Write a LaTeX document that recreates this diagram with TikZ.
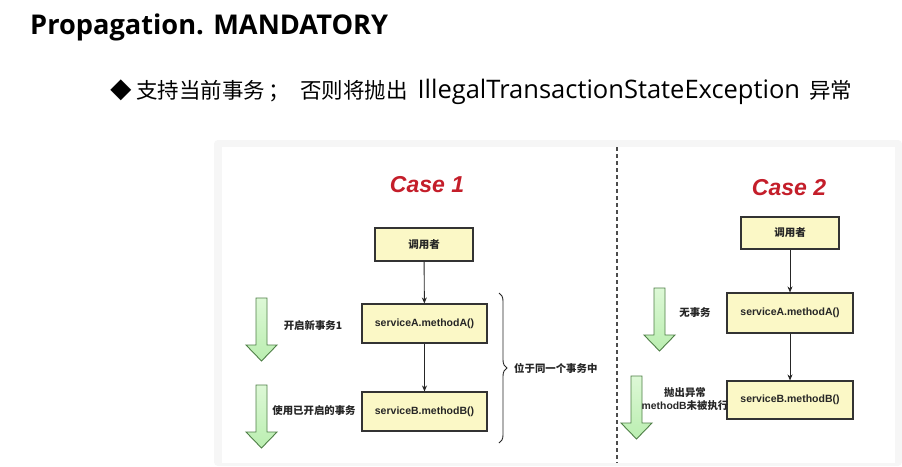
\documentclass[tikz,border=0pt]{standalone}
\usepackage{fontspec}
\setmainfont{Liberation Sans}
\newfontfamily\cjk{Noto Sans CJK SC}
\newfontfamily\headfont{Open Sans}
\usetikzlibrary{arrows.meta,decorations.pathreplacing}

\definecolor{boxfill}{HTML}{FBF8C6}
\definecolor{boxline}{HTML}{333333}
\definecolor{caseRed}{HTML}{C41E2A}
\definecolor{arrowline}{HTML}{4E7F46}
\definecolor{arrowtop}{HTML}{DDF8D6}
\definecolor{arrowbot}{HTML}{BAEEB0}
\definecolor{rim}{HTML}{F6F6F6}

\tikzset{
  box/.style={draw=boxline, fill=boxfill, line width=1.1pt,
    minimum width=125pt, minimum height=39pt, inner sep=0pt,
    font=\fontsize{10.5}{12}\selectfont\bfseries, text=black!85},
  callerbox/.style={box, minimum width=98pt, minimum height=33pt,
    font=\cjk\fontsize{10.5}{12}\selectfont\bfseries},
  flow/.style={-{Stealth[length=6pt,width=5pt]}, line width=0.9pt, draw=black!85},
  note/.style={font=\cjk\fontsize{10.4}{13}\selectfont\bfseries,
    text=black!85, align=center, inner sep=0pt},
  casetitle/.style={font=\fontsize{23}{26}\selectfont\bfseries\itshape,
    text=caseRed, inner sep=0pt},
  pics/greenarrow/.style={code={
    \draw[draw=arrowline, line width=0.9pt, top color=arrowtop,
      bottom color=arrowbot, line join=miter]
      (-5.5,0) -- (5.5,0) -- (5.5,47) -- (15.5,47) -- (0,63)
      -- (-15.5,47) -- (-5.5,47) -- cycle;
  }},
}

\begin{document}
\begin{tikzpicture}[x=1pt, y=-1pt]
  \useasboundingbox (0,0) rectangle (902,466);
  \fill[white] (0,0) rectangle (902,466);

  % heading and summary line
  \node[anchor=base west, inner sep=0pt,
    font=\headfont\fontsize{27.2}{32}\selectfont\bfseries] (title) at (30,34)
    {Propagation. MANDATORY};
  \node[anchor=base west, inner sep=0pt,
    font=\cjk\fontsize{21.5}{24}\selectfont] (summary) at (110,98)
    {◆ 支持当前事务\hspace{3pt}；\hspace{10pt}否则将抛出\hspace{10pt}%
     {\headfont\fontsize{25.5}{28}\selectfont IllegalTransactionStateException}%
     \hspace{9pt}异常};

  % framed panel
  \fill[rim, rounded corners=4pt] (214,140) rectangle (902,466);
  \fill[white] (222,147) rectangle (895,463);
  \coordinate (divtop) at (617,147);
  \coordinate (divbot) at (617,463);
  \draw[black!70, line width=1.1pt, dash pattern=on 4pt off 3pt] (divtop) -- (divbot);

  % Case 1
  \node[casetitle] (case1) at (427,185) {Case 1};
  \node[callerbox] (callerA) at (424,244.5) {调用者};
  \node[box] (svcA1) at (424.5,323.5) {serviceA.methodA()};
  \node[box] (svcB1) at (424.5,411.5) {serviceB.methodB()};
  \draw[flow] (callerA) -- (svcA1);
  \draw[flow] (svcA1) -- (svcB1);

  \pic at (261.5,298) {greenarrow};
  \pic at (261.5,385) {greenarrow};
  \node[note] (n1) at (313,326) {开启新事务1};
  \node[note] (n2) at (314,411) {使用已开启的事务};

  \coordinate (braceTop) at (499,293);
  \coordinate (braceBot) at (499,443);
  \draw[black!85, line width=0.9pt,
    decorate, decoration={brace, amplitude=8pt}] (braceTop) -- (braceBot);
  \node[note, anchor=west] (same) at (514,368) {位于同一个事务中};

  % Case 2
  \node[casetitle] (case2) at (789,188) {Case 2};
  \node[callerbox, minimum height=32pt] (callerB) at (790,233) {调用者};
  \node[box, minimum width=126pt, minimum height=40pt] (svcA2) at (790,313) {serviceA.methodA()};
  \node[box, minimum width=126pt, minimum height=38pt] (svcB2) at (790,400) {serviceB.methodB()};
  \draw[flow] (callerB) -- (svcA2);
  \draw[flow] (svcA2) -- (svcB2);

  \pic at (659.5,288) {greenarrow};
  \pic at (636.5,376) {greenarrow};
  \node[note] (n3) at (695,313) {无事务};
  \node[note] (n4) at (685,399)
    {抛出异常\\\fontsize{10.4}{13}\selectfont\rmfamily\bfseries methodB{\cjk 未被执行}};
\end{tikzpicture}
\end{document}
